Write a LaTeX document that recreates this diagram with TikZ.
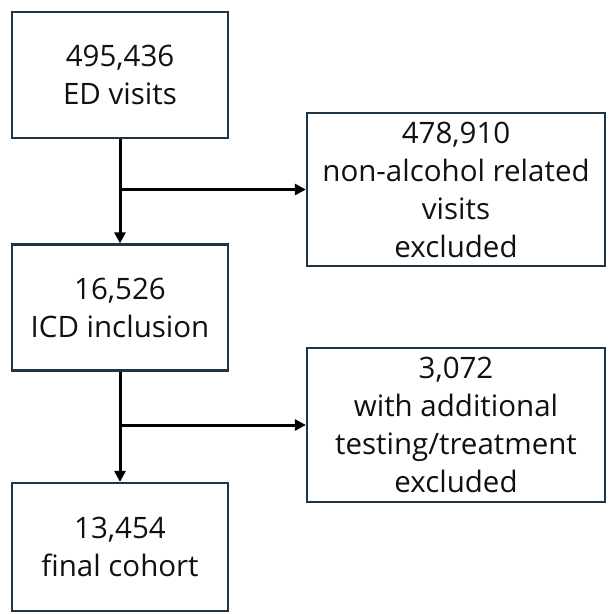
\documentclass[tikz,border=0pt]{standalone}
\usepackage{fontspec}
\setmainfont{Open Sans}
\usetikzlibrary{arrows.meta,positioning,calc}
\definecolor{frame}{HTML}{1F3545}
\definecolor{ink}{HTML}{111111}
\tikzset{
  >={Triangle[length=11pt,width=11pt]},
  box/.style={draw=frame, fill=white, line width=2.2pt, align=center,
    font=\fontsize{29.5}{38}\selectfont, text=ink, inner sep=0pt},
  stepbox/.style={box, minimum width=216pt, minimum height=126pt},
  exbox/.style={box, minimum width=298pt, minimum height=153pt},
  arr/.style={->, draw=black, line width=3pt},
}
\begin{document}
\begin{tikzpicture}[x=1pt,y=-1pt]
  \useasboundingbox (0,0) rectangle (614,614);
  % main column
  \node[stepbox] (ed) at (120,75) {495,436\\ ED visits};
  \node[stepbox] (icd) at (120,307.5) {16,526\\ ICD inclusion};
  \node[stepbox, minimum height=128pt] (cohort) at (120,547) {13,454\\ final cohort};
  % exclusions
  \node[exbox] (nonalc) at (456,189.5) {478,910\\ non-alcohol related\\ visits\\ excluded};
  \node[exbox, minimum height=154pt] (testing) at (456,425) {3,072\\ with additional\\ testing/treatment\\ excluded};
  % junctions
  \coordinate (j1) at (ed.south |- nonalc.west);
  \coordinate (j2) at (icd.south |- testing.west);
  \draw[arr] (ed.south) -- (icd.north);
  \draw[arr] (j1) -- (nonalc.west);
  \draw[arr] (icd.south) -- (cohort.north);
  \draw[arr] (j2) -- (testing.west);
\end{tikzpicture}
\end{document}
